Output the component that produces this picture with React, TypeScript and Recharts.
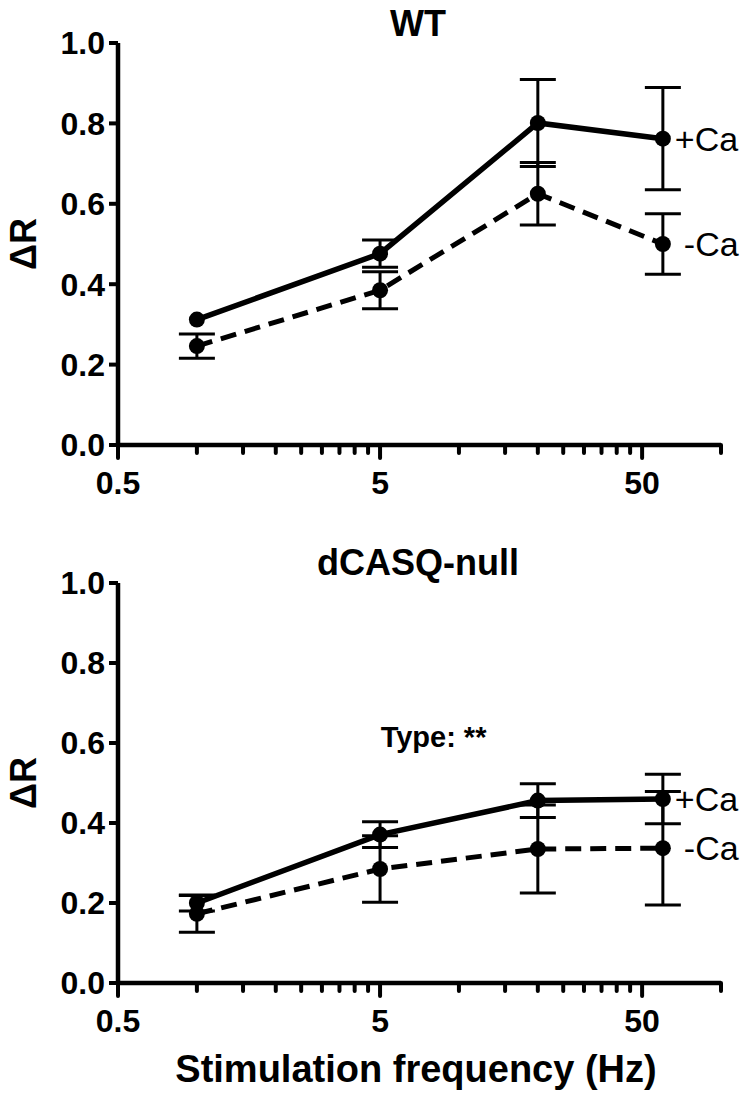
import React from 'react';
import { LineChart, Line, XAxis, YAxis, ErrorBar, LabelList, ReferenceDot } from 'recharts';

// stimulation frequencies (Hz)
const freqs = [1, 5, 20, 60];

// WT
const wtPlus = [0.312, 0.476, 0.801, 0.762];
const wtPlusSem = [0, 0.034, 0.108, 0.127];
const wtMinus = [0.246, 0.385, 0.625, 0.5];
const wtMinusSem = [0.03, 0.046, 0.078, 0.075];

// dCASQ-null
const nullPlus = [0.2, 0.371, 0.456, 0.46];
const nullPlusSem = [0.02, 0.032, 0.042, 0.062];
const nullMinus = [0.173, 0.285, 0.335, 0.337];
const nullMinusSem = [0.046, 0.083, 0.11, 0.142];

const xTicks = [0.5, 1, 1.5, 2, 2.5, 3, 3.5, 4, 4.5, 5, 10, 15, 20, 25, 30, 35, 40, 45, 50, 100];
const xMajor = [0.5, 5, 50];
const yTicks = [0, 0.2, 0.4, 0.6, 0.8, 1.0];

const FONT = '"Liberation Sans", Arial, sans-serif';

const buildRows = (plus: number[], plusSem: number[], minus: number[], minusSem: number[]) =>
  freqs.map((f, i) => ({ f, plus: plus[i], plusErr: plusSem[i], minus: minus[i], minusErr: minusSem[i] }));

const XTick = (props: any) => {
  const { x, y, payload } = props;
  const major = xMajor.includes(payload.value);
  return (
    <g>
      <line x1={x} x2={x} y1={y} y2={y + (major ? 13 : 8)} stroke="#000" strokeWidth={4} strokeLinecap="round" />
      {major && (
        <text x={x} y={y + 49} textAnchor="middle" fontSize={32} fontWeight="bold" fontFamily={FONT} fill="#000">
          {payload.value}
        </text>
      )}
    </g>
  );
};

const endLabel = (text: string, dx: number) => (p: any) => {
  if (p.index !== freqs.length - 1) return null;
  return (
    <text x={p.x + dx} y={p.y} dominantBaseline="central" fontSize={34} fontFamily={FONT} fill="#000">
      {text}
    </text>
  );
};

interface PanelProps {
  title: string;
  titleY: number;
  rows: any[];
  height: number;
  top: number;
  xAxisHeight: number;
  xLabel?: boolean;
  note?: boolean;
}

const Panel: React.FC<PanelProps> = ({ title, titleY, rows, height, top, xAxisHeight, xLabel, note }) => {
  const plotH = height - top - xAxisHeight;
  const midY = top + plotH / 2;
  return (
    <LineChart width={752} height={height} data={rows} margin={{ top, right: 31, left: 0, bottom: 0 }}>
      <text x={418} y={titleY} textAnchor="middle" fontSize={36} fontWeight="bold" fontFamily={FONT} fill="#000">
        {title}
      </text>
      <text
        x={23}
        y={midY}
        transform={`rotate(-90 23 ${midY})`}
        textAnchor="middle"
        dominantBaseline="central"
        fontSize={36}
        fontWeight="bold"
        fontFamily={FONT}
        fill="#000"
      >
        ΔR
      </text>
      {xLabel && (
        <text x={416} y={height - 11} textAnchor="middle" fontSize={38} fontWeight="bold" fontFamily={FONT} fill="#000">
          Stimulation frequency (Hz)
        </text>
      )}
      <XAxis
        dataKey="f"
        type="number"
        scale="log"
        domain={[0.5, 100]}
        ticks={xTicks}
        interval={0}
        allowDataOverflow
        height={xAxisHeight}
        tickSize={0}
        tickMargin={0}
        tickLine={false}
        axisLine={{ stroke: '#000', strokeWidth: 4.5 }}
        tick={<XTick />}
      />
      <YAxis
        type="number"
        domain={[0, 1]}
        ticks={yTicks}
        width={118}
        tickSize={9}
        tickMargin={4}
        tickFormatter={(v: number) => v.toFixed(1)}
        axisLine={{ stroke: '#000', strokeWidth: 4.5 }}
        tickLine={{ stroke: '#000', strokeWidth: 4 }}
        tick={{ fill: '#000', fontSize: 32, fontWeight: 'bold', fontFamily: FONT }}
      />
      {note && (
        <ReferenceDot
          x={8}
          y={0.615}
          r={0}
          stroke="none"
          label={{ value: 'Type: **', position: 'center', fill: '#000', fontSize: 29, fontWeight: 'bold', fontFamily: FONT }}
        />
      )}
      <Line
        type="linear"
        dataKey="minus"
        stroke="#000"
        strokeWidth={5}
        strokeDasharray="16 9"
        dot={{ r: 8, fill: '#000', stroke: '#000', strokeWidth: 0 }}
        isAnimationActive={false}
      >
        <ErrorBar dataKey="minusErr" direction="y" width={18} stroke="#000" strokeWidth={3} />
        <LabelList dataKey="minus" content={endLabel('-Ca', 21)} />
      </Line>
      <Line
        type="linear"
        dataKey="plus"
        stroke="#000"
        strokeWidth={5.5}
        dot={{ r: 8, fill: '#000', stroke: '#000', strokeWidth: 0 }}
        isAnimationActive={false}
      >
        <ErrorBar dataKey="plusErr" direction="y" width={18} stroke="#000" strokeWidth={3} />
        <LabelList dataKey="plus" content={endLabel('+Ca', 12)} />
      </Line>
    </LineChart>
  );
};

export default function App() {
  return (
    <div style={{ width: 752, margin: '-8px 0 0 -8px', fontFamily: FONT }}>
      <Panel
        title="WT"
        titleY={36}
        rows={buildRows(wtPlus, wtPlusSem, wtMinus, wtMinusSem)}
        height={505}
        top={43}
        xAxisHeight={60}
      />
      <Panel
        title="dCASQ-null"
        titleY={70}
        rows={buildRows(nullPlus, nullPlusSem, nullMinus, nullMinusSem)}
        height={588}
        top={78}
        xAxisHeight={110}
        xLabel
        note
      />
    </div>
  );
}
